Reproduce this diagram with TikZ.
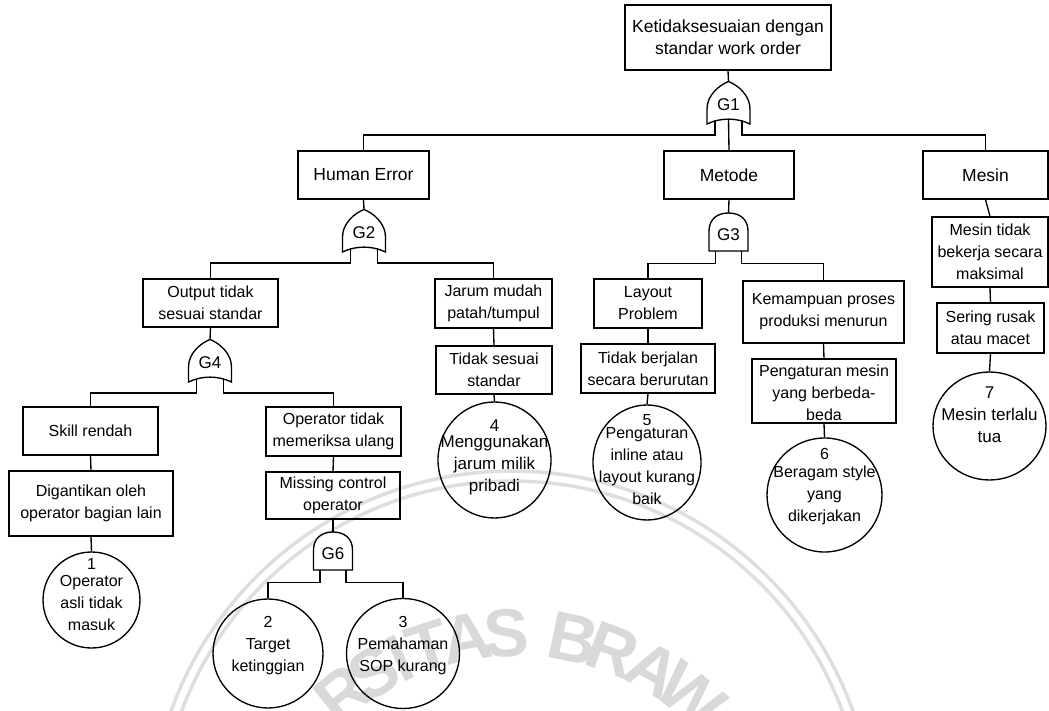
\documentclass[tikz,border=0pt]{standalone}
\usepackage{fontspec}
\setmainfont{Liberation Sans}
\usetikzlibrary{shapes.geometric}

\tikzset{
  every node/.style={font=\fontsize{16}{22}\selectfont, align=center, inner sep=0pt},
  big/.style={font=\fontsize{17.5}{22}\selectfont},
  gatetext/.style={font=\fontsize{17}{22}\selectfont},
  box/.style={draw, line width=1.35pt, rectangle},
  evt/.style={draw, line width=1.35pt, ellipse},
  wire/.style={line width=1.35pt},
  gateline/.style={draw, line width=1.35pt, fill=white},
  wmark/.style={font=\bfseries\fontsize{68}{68}\selectfont, text=black!15},
  % OR gate: origin at the middle of the bottom corners
  orgate/.pic={
    \path[gateline] (-21.5,0) -- (-21.5,-15)
      .. controls (-21.5,-29) and (-9,-39) .. (0,-42.5)
      .. controls (9,-39) and (21.5,-29) .. (21.5,-15)
      -- (21.5,0) .. controls (8,-6.5) and (-8,-6.5) .. (-21.5,0) -- cycle;
    \node[gatetext] (-lbl) at (0,-19) {#1};
    \coordinate (-in) at (0,-42.5);
    \coordinate (-a) at (-13.5,-3.5);
    \coordinate (-b) at (13.5,-3.5);
    \coordinate (-c) at (0,-5);
    \coordinate (-aa) at (-13.5,11);
    \coordinate (-bb) at (13.5,11);
  },
  % AND gate: origin at the middle of the flat bottom
  andgate/.pic={
    \path[gateline] (-19.5,0) -- (-19.5,-20)
      .. controls (-19.5,-32) and (-11,-38) .. (0,-38)
      .. controls (11,-38) and (19.5,-32) .. (19.5,-20)
      -- (19.5,0) -- cycle;
    \node[gatetext] (-lbl) at (0,-16) {#1};
    \coordinate (-in) at (0,-38);
    \coordinate (-a) at (-13,0);
    \coordinate (-b) at (13,0);
    \coordinate (-aa) at (-13,12.5);
    \coordinate (-bb) at (13,12.5);
  }
}

\begin{document}
\begin{tikzpicture}[x=1pt,y=-1pt]
\useasboundingbox (0,0) rectangle (1049,711);

% faint university watermark behind the tree
\begin{scope}
  \clip (0,0) rectangle (1049,711);
  \draw[black!13, line width=3.5pt] (512,833) circle (352);
  \draw[black!13, line width=3.5pt] (512,833) circle (362);
  \foreach \ch/\a [count=\i] in {R/129, S/121, I/115, T/108.5, A/100.5, S/92, B/78, R/69.5, A/60, W/50.5}
    \node[wmark, rotate=\a-90] (wm\i) at ({516+275*cos(\a)},{908-275*sin(\a)}) {\ch};
\end{scope}

% top event and first level
\node[box, big, minimum width=206pt, minimum height=65pt] (top) at (728,37.5) {Ketidaksesuaian dengan\\standar work order};
\node[box, big, minimum width=131pt, minimum height=48pt] (he) at (363.5,175) {Human Error};
\node[box, big, minimum width=130pt, minimum height=48pt] (met) at (729,175) {Metode};
\node[box, big, minimum width=125pt, minimum height=48pt] (mes) at (985.5,175) {Mesin};

% human error branch
\node[box, minimum width=135pt, minimum height=48pt] (out) at (210.5,303) {Output tidak\\sesuai standar};
\node[box, minimum width=117pt, minimum height=49pt] (jar) at (493.5,303.5) {Jarum mudah\\patah/tumpul};
\node[box, minimum width=116pt, minimum height=48pt] (tss) at (494,370) {Tidak sesuai\\standar};
\node[box, minimum width=135pt, minimum height=48pt] (skl) at (90.5,431) {Skill rendah};
\node[box, minimum width=164pt, minimum height=65pt] (dig) at (91,503.5) {Digantikan oleh\\operator bagian lain};
\node[box, minimum width=135pt, minimum height=49pt] (otm) at (333.5,431.5) {Operator tidak\\memeriksa ulang};
\node[box, minimum width=134pt, minimum height=47pt] (mco) at (333,495.5) {Missing control\\operator};

% method branch
\node[box, minimum width=108pt, minimum height=49pt] (lay) at (648,303.5) {Layout\\Problem};
\node[box, minimum width=134pt, minimum height=49pt] (tbj) at (648,368.5) {Tidak berjalan\\secara berurutan};
\node[box, minimum width=161pt, minimum height=62pt] (kem) at (823.5,312) {Kemampuan proses\\produksi menurun};
\node[box, minimum width=144pt, minimum height=64pt] (pgm) at (824,391) {};
\node (pgmt) at (824,393) {Pengaturan mesin\\yang berbeda-\\beda};

% machine branch
\node[box, minimum width=116pt, minimum height=70pt] (mtb) at (990,252) {Mesin tidak\\bekerja secara\\maksimal};
\node[box, minimum width=107pt, minimum height=50pt] (srm) at (990.5,328) {Sering rusak\\atau macet};

% basic events
\node[evt, minimum width=97pt, minimum height=96pt] (e1) at (91.5,600) {};
\node (t1) at (91.5,595) {1\\[-5pt]Operator\\asli tidak\\masuk};
\node[evt, minimum width=110pt, minimum height=109pt] (e2) at (268,653.5) {};
\node (t2) at (268,646) {2\\Target\\ketinggian};
\node[evt, minimum width=113pt, minimum height=110pt] (e3) at (403,653.5) {};
\node (t3) at (403,646) {3\\Pemahaman\\SOP kurang};
\node[evt, minimum width=113pt, minimum height=116pt] (e4) at (494.5,460) {};
\node[font=\fontsize{17}{22}\selectfont] (t4) at (494.5,457) {4\\[-6pt]Menggunakan\\jarum milik\\pribadi};
\node[evt, minimum width=108pt, minimum height=115pt] (e5) at (647,462.5) {};
\node (t5) at (647,460) {5\\[-9pt]Pengaturan\\inline atau\\layout kurang\\baik};
\node[evt, minimum width=115pt, minimum height=114pt] (e6) at (824.5,495) {};
\node (t6) at (824.5,487) {6\\[-4pt]Beragam style\\yang\\dikerjakan};
\node[evt, minimum width=113pt, minimum height=108pt] (e7) at (989.5,426) {};
\node[font=\fontsize{17}{22}\selectfont] (t7) at (989.5,415) {7\\Mesin terlalu\\tua};

% gates
\pic (g1) at (728.5,124) {orgate=G1};
\pic (g2) at (364,252) {orgate=G2};
\pic (g4) at (210,382) {orgate=G4};
\pic (g3) at (728.5,251) {andgate=G3};
\pic (g6) at (333,570) {andgate=G6};

% connectors
\draw[wire] (top.south) -- (g1-in);
\draw[wire] (g1-a) -- (g1-aa) -| (he.north);
\draw[wire] (g1-c) -- (met.north);
\draw[wire] (g1-b) -- (g1-bb) -| (mes.north);

\draw[wire] (he.south) -- (g2-in);
\draw[wire] (g2-a) -- (g2-aa) -| (out.north);
\draw[wire] (g2-b) -- (g2-bb) -| (jar.north);
\draw[wire] (out.south) -- (g4-in);
\draw[wire] (g4-a) -- (g4-aa) -| (skl.north);
\draw[wire] (g4-b) -- (g4-bb) -| (otm.north);
\draw[wire] (skl.south) -- (dig.north);
\draw[wire] (dig.south) -- (e1.north);
\draw[wire] (otm.south) -- (mco.north);
\draw[wire] (mco.south) -- (g6-in);
\draw[wire] (g6-a) -- (g6-aa) -| (e2.north);
\draw[wire] (g6-b) -- (g6-bb) -| (e3.north);
\draw[wire] (jar.south) -- (tss.north);
\draw[wire] (tss.south) -- (e4.north);

\draw[wire] (met.south) -- (g3-in);
\draw[wire] (g3-a) -- (g3-aa) -| (lay.north);
\draw[wire] (g3-b) -- (g3-bb) -| (kem.north);
\draw[wire] (lay.south) -- (tbj.north);
\draw[wire] (tbj.south) -- (e5.north);
\draw[wire] (kem.south) -- (pgm.north);
\draw[wire] (pgm.south) -- (e6.north);

\draw[wire] (mes.south) -- (mtb.north);
\draw[wire] (mtb.south) -- (srm.north);
\draw[wire] (srm.south) -- (e7.north);
\end{tikzpicture}
\end{document}
